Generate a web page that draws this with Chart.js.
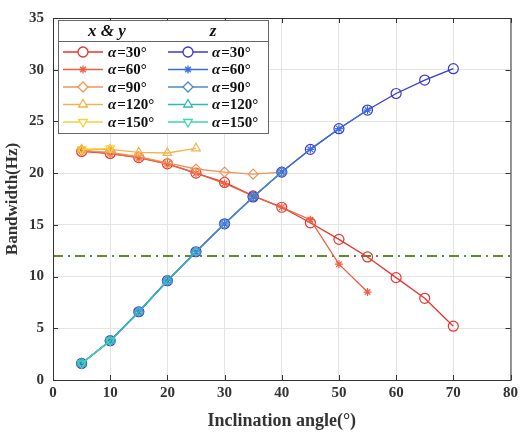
<!DOCTYPE html>
<html>
<head>
<meta charset="utf-8">
<script src="https://cdn.jsdelivr.net/npm/chart.js@4.4.1/dist/chart.umd.min.js"></script>
<style>
  html, body { margin: 0; padding: 0; background: #fff; }
  #wrap { width: 522px; height: 432px; }
</style>
</head>
<body>
<div id="wrap"><canvas id="myChart" width="522" height="432"></canvas></div>
<script>
// inclination angles (deg)
const angles = [5, 10, 15, 20, 25, 30, 35, 40, 45, 50, 55, 60, 65, 70];

// x & y bandwidth (Hz)
const xy30 = [22.1, 21.9, 21.5, 20.9, 20.0, 19.1, 17.8, 16.7, 15.2, 13.6, 11.9, 9.9, 7.9, 5.2];
const xy60 = [22.2, 21.9, 21.5, 20.9, 20.0, 19.0, 17.8, 16.7, 15.5, 11.2, 8.5];
const xy90 = [22.2, 22.0, 21.6, 21.0, 20.4, 20.1, 19.9, 20.1];
const xy120 = [22.3, 22.3, 22.0, 21.95, 22.4];
const xy150 = [22.3, 22.4];

// z bandwidth (Hz)
const z30 = [1.6, 3.8, 6.6, 9.6, 12.4, 15.1, 17.7, 20.1, 22.3, 24.3, 26.1, 27.7, 29.0, 30.1];
const z60 = [1.6, 3.8, 6.6, 9.6, 12.4, 15.1, 17.7, 20.1, 22.3, 24.3, 26.1];
const z90 = [1.6, 3.8, 6.6, 9.6, 12.4, 15.1, 17.7, 20.1];
const z120 = [1.6, 3.8, 6.6, 9.6, 12.4];
const z150 = [1.6, 3.8];

const threshold = 12;
const alphaLabels = ['30', '60', '90', '120', '150'];

const serif = '"Liberation Serif", "DejaVu Serif", serif';

const pts = arr => arr.map((v, i) => ({x: angles[i], y: v}));

const markers = [
    {style: 'circle', r: 5, rot: 0},
    {style: 'star', r: 4, rot: 0},
    {style: 'rectRot', r: 5, rot: 0},
    {style: 'triangle', r: 5, rot: 0},
    {style: 'triangle', r: 5, rot: 180}
];
const xyColors = ['#e8352d', '#ee6040', '#f09458', '#f2b24e', '#f4d23a'];
const zColors = ['#3a3ad0', '#3a6ee0', '#4a8cc4', '#33b8b8', '#3ad8a8'];

let n = 0;
const mk = (arr, color, m) => ({
    data: pts(arr),
    order: 100 - (n++),   // later series drawn on top
    borderColor: color,
    backgroundColor: 'rgba(0,0,0,0)',
    pointBorderColor: color,
    pointBackgroundColor: 'rgba(0,0,0,0)',
    borderWidth: 1.3,
    pointBorderWidth: 1.2,
    pointStyle: m.style,
    pointRadius: m.r,
    pointRotation: m.rot,
    tension: 0
});

const xySeries = [xy30, xy60, xy90, xy120, xy150];
const zSeries = [z30, z60, z90, z120, z150];

let datasets = [];
datasets.push({
    data: [{x: 0, y: threshold}, {x: 80, y: threshold}],
    order: 200,
    borderColor: '#5f8a2e',
    borderWidth: 2,
    borderDash: [10, 5, 2, 5],
    pointRadius: 0
});
xySeries.forEach((s, i) => datasets.push(mk(s, xyColors[i], markers[i])));
zSeries.forEach((s, i) => datasets.push(mk(s, zColors[i], markers[i])));

// box, inward ticks and the two-column legend
const boxLegend = {
    id: 'boxLegend',
    afterDraw(chart) {
        const c = chart.ctx, a = chart.chartArea;
        c.save();
        c.strokeStyle = '#333';
        c.lineWidth = 1;
        c.strokeRect(a.left + 0.5, a.top + 0.5, a.right - a.left, a.bottom - a.top);
        const xs = chart.scales.x, ys = chart.scales.y;
        c.beginPath();
        xs.ticks.forEach(t => {
            const px = Math.round(xs.getPixelForValue(t.value)) + 0.5;
            c.moveTo(px, a.bottom); c.lineTo(px, a.bottom - 5);
            c.moveTo(px, a.top); c.lineTo(px, a.top + 5);
        });
        ys.ticks.forEach(t => {
            const py = Math.round(ys.getPixelForValue(t.value)) + 0.5;
            c.moveTo(a.left, py); c.lineTo(a.left + 5, py);
            c.moveTo(a.right, py); c.lineTo(a.right - 5, py);
        });
        c.stroke();

        // legend
        const L = 58, T = 20, R = 268, B = 133;
        c.fillStyle = '#fff';
        c.fillRect(L, T, R - L, B - T);
        c.strokeStyle = '#666';
        c.strokeRect(L + 0.5, T + 0.5, R - L, B - T);
        c.beginPath();
        c.moveTo(L, 41.5); c.lineTo(R, 41.5);
        c.stroke();

        c.fillStyle = '#111';
        c.textBaseline = 'middle';
        c.textAlign = 'center';
        c.font = 'italic bold 17px ' + serif;
        c.fillText('x & y', 107, 32);
        c.fillText('z', 213, 32);

        const rowsY = [52, 69.5, 87, 104.5, 122];
        const cols = [{x0: 63, x1: 103, mx: 83, tx: 108, colors: xyColors},
                      {x0: 168, x1: 208, mx: 188, tx: 212, colors: zColors}];
        cols.forEach(col => {
            rowsY.forEach((y, i) => {
                c.strokeStyle = col.colors[i];
                c.lineWidth = 1.3;
                c.beginPath();
                c.moveTo(col.x0, y); c.lineTo(col.x1, y);
                c.stroke();
                c.fillStyle = '#fff';
                Chart.helpers.drawPoint(c, {
                    pointStyle: markers[i].style,
                    radius: markers[i].r,
                    rotation: markers[i].rot,
                    borderWidth: 1.2
                }, col.mx, y);
                c.fillStyle = '#111';
                c.textAlign = 'left';
                c.font = 'italic bold 15px ' + serif;
                c.fillText('\u03b1', col.tx, y + 1);
                const w = c.measureText('\u03b1').width;
                c.font = 'bold 15px ' + serif;
                c.fillText('=' + alphaLabels[i] + '\u00b0', col.tx + w + 1, y + 1);
            });
        });
        c.restore();
    }
};

let ctx = document.getElementById('myChart');
let myChart = new Chart(ctx, {
    type: 'line',
    data: {datasets: datasets},
    options: {
        responsive: false,
        animation: false,
        layout: {padding: {top: 15, right: 9, left: 2, bottom: 0}},
        plugins: {
            legend: {display: false},
            tooltip: {enabled: false}
        },
        scales: {
            x: {
                type: 'linear',
                min: 0, max: 80,
                ticks: {stepSize: 10, color: '#333', padding: 4, font: {family: serif, size: 15, weight: 'bold'}},
                grid: {color: '#e4e4e4', drawTicks: false},
                border: {display: false},
                title: {display: true, text: 'Inclination angle(\u00b0)', color: '#333',
                        padding: {top: 2, bottom: 0}, font: {family: serif, size: 18, weight: 'bold'}},
                afterFit(scale) { scale.height = 52; }
            },
            y: {
                min: 0, max: 35,
                ticks: {stepSize: 5, color: '#333', padding: 9, font: {family: serif, size: 15, weight: 'bold'}},
                grid: {color: '#e4e4e4', drawTicks: false},
                border: {display: false},
                title: {display: true, text: 'Bandwidth(Hz)', color: '#333',
                        padding: {top: 0, bottom: 2}, font: {family: serif, size: 17, weight: 'bold'}},
                afterFit(scale) { scale.width = 51; }
            }
        }
    },
    plugins: [boxLegend]
});
</script>
</body>
</html>
